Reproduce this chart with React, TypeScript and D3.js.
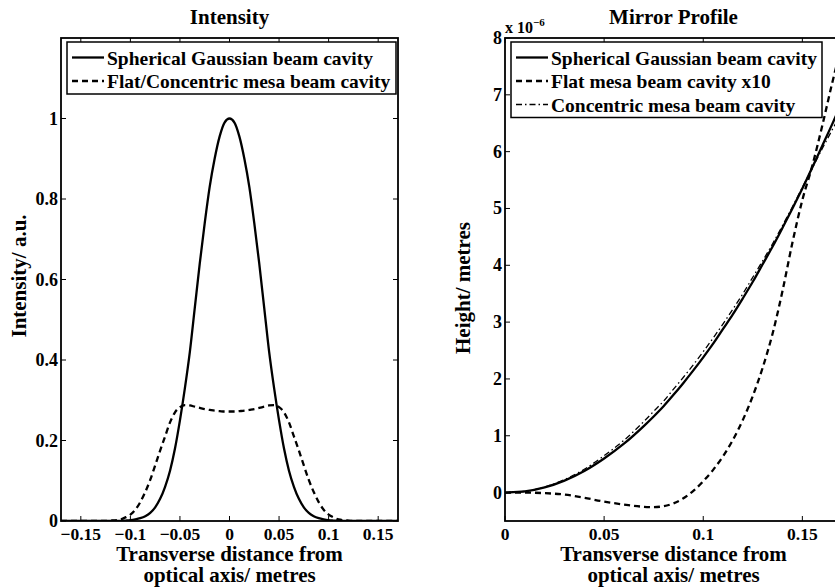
import * as d3 from "d3";

// ---- Intensity panel data ----
const intensityX = [
  -0.17, -0.13, -0.12, -0.11, -0.105, -0.1, -0.095, -0.09, -0.085, -0.08, -0.075, -0.07, -0.065,
  -0.06, -0.055, -0.05, -0.045, -0.04, -0.035, -0.03, -0.025, -0.02, -0.015, -0.01, -0.005, 0,
  0.005, 0.01, 0.015, 0.02, 0.025, 0.03, 0.035, 0.04, 0.045, 0.05, 0.055, 0.06, 0.065, 0.07,
  0.075, 0.08, 0.085, 0.09, 0.095, 0.1, 0.105, 0.11, 0.12, 0.13, 0.17,
];
const gaussianIntensity = [
  0, 0, 0, 0, 0.001, 0.002, 0.004, 0.007, 0.012, 0.02, 0.034, 0.055, 0.085,
  0.125, 0.18, 0.25, 0.33, 0.42, 0.53, 0.64, 0.74, 0.83, 0.9, 0.955, 0.99, 1.0,
  0.99, 0.955, 0.9, 0.83, 0.74, 0.64, 0.53, 0.42, 0.33, 0.25, 0.18, 0.125, 0.085, 0.055,
  0.034, 0.02, 0.012, 0.007, 0.004, 0.002, 0.001, 0, 0, 0, 0,
];
const mesaIntensity = [
  0, 0, 0.001, 0.004, 0.009, 0.016, 0.028, 0.047, 0.072, 0.102, 0.138, 0.175, 0.21,
  0.245, 0.27, 0.283, 0.288, 0.287, 0.284, 0.281, 0.278, 0.276, 0.274, 0.273, 0.272, 0.272,
  0.272, 0.273, 0.274, 0.276, 0.278, 0.281, 0.284, 0.287, 0.288, 0.283, 0.27, 0.245, 0.21, 0.175,
  0.138, 0.102, 0.072, 0.047, 0.028, 0.016, 0.009, 0.004, 0.001, 0, 0,
];
const intensityXTicks = [-0.15, -0.1, -0.05, 0, 0.05, 0.1, 0.15];
const intensityYTicks = [0, 0.2, 0.4, 0.6, 0.8, 1];

// ---- Mirror profile panel data (heights in units of 1e-6 m) ----
const profileX = [
  0, 0.01, 0.02, 0.03, 0.04, 0.05, 0.06, 0.07, 0.075, 0.08, 0.085, 0.09, 0.095, 0.1, 0.105,
  0.11, 0.115, 0.12, 0.125, 0.13, 0.135, 0.14, 0.145, 0.15, 0.155, 0.16, 0.165, 0.17,
];
const sphericalHeight = [
  0, 0.02, 0.09, 0.21, 0.38, 0.6, 0.86, 1.17, 1.34, 1.52, 1.72, 1.93, 2.15, 2.38, 2.62,
  2.88, 3.14, 3.42, 3.71, 4.02, 4.33, 4.66, 5.0, 5.35, 5.72, 6.1, 6.48, 6.88,
];
const flatMesaHeight = [
  0, 0, -0.01, -0.035, -0.09, -0.16, -0.21, -0.25, -0.255, -0.24, -0.19, -0.1, 0.03, 0.2, 0.4,
  0.64, 0.93, 1.28, 1.7, 2.2, 2.8, 3.55, 4.4, 5.15, 5.75, 6.45, 7.2, 7.9,
];
const concentricMesaHeight = [
  0, 0.02, 0.1, 0.23, 0.41, 0.65, 0.92, 1.25, 1.43, 1.61, 1.82, 2.03, 2.25, 2.48, 2.72,
  2.97, 3.23, 3.5, 3.79, 4.08, 4.38, 4.7, 5.03, 5.37, 5.71, 6.05, 6.38, 6.7,
];
const profileXTicks = [0, 0.05, 0.1, 0.15];
const profileYTicks = [0, 1, 2, 3, 4, 5, 6, 7, 8];

const FONT = "'Liberation Serif', 'Times New Roman', serif";
const W = 835;
const H = 587;
const top = 38;
const bottom = 521;
const tickLen = 5;

const fmt = (v: number) => (v < 0 ? "\u2212" + String(-v) : String(v));

interface SeriesDef {
  label: string;
  values: number[];
  dash?: string;
  width: number;
}

interface PanelProps {
  id: string;
  left: number;
  right: number;
  xDomain: [number, number];
  yDomain: [number, number];
  xs: number[];
  series: SeriesDef[];
  xTicks: number[];
  yTicks: number[];
  title: string;
  yLabel: string;
  yLabelY: number;
  legendWidth: number;
  exponent?: boolean;
}

function Panel(p: PanelProps) {
  const x = d3.scaleLinear().domain(p.xDomain).range([p.left, p.right]);
  const y = d3.scaleLinear().domain(p.yDomain).range([bottom, top]);
  const cx = (p.left + p.right) / 2;
  const line = (vals: number[]) =>
    d3
      .line<number>()
      .x((_, i) => x(p.xs[i]))
      .y((d) => y(d))
      .curve(d3.curveMonotoneX)(vals) || "";

  const lgX = p.left + 6;
  const lgY = top + 4;
  const rowH = 23.5;
  const lgH = p.series.length * rowH + 5;

  return (
    <g fontFamily={FONT} fontWeight="bold" fill="#000">
      <defs>
        <clipPath id={p.id}>
          <rect x={p.left} y={top} width={p.right - p.left} height={bottom - top} />
        </clipPath>
      </defs>
      <rect x={p.left} y={top} width={p.right - p.left} height={bottom - top} fill="#fff" />

      {/* curves */}
      <g clipPath={`url(#${p.id})`}>
        {p.series.map((s) => (
          <path
            key={s.label}
            d={line(s.values)}
            fill="none"
            stroke="#000"
            strokeWidth={s.width}
            strokeDasharray={s.dash}
          />
        ))}
      </g>

      {/* ticks on all four sides, pointing inward */}
      {p.xTicks.map((t) => (
        <g key={"xt" + t}>
          <line x1={x(t)} x2={x(t)} y1={bottom} y2={bottom - tickLen} stroke="#000" />
          <line x1={x(t)} x2={x(t)} y1={top} y2={top + tickLen} stroke="#000" />
          <text x={x(t)} y={bottom + 18.5} textAnchor="middle" fontSize={17.5}>
            {fmt(t)}
          </text>
        </g>
      ))}
      {p.yTicks.map((t) => (
        <g key={"yt" + t}>
          <line x1={p.left} x2={p.left + tickLen} y1={y(t)} y2={y(t)} stroke="#000" />
          <line x1={p.right} x2={p.right - tickLen} y1={y(t)} y2={y(t)} stroke="#000" />
          <text x={p.left - 3} y={y(t) + 6} textAnchor="end" fontSize={18}>
            {fmt(t)}
          </text>
        </g>
      ))}
      <rect
        x={p.left}
        y={top}
        width={p.right - p.left}
        height={bottom - top}
        fill="none"
        stroke="#000"
        strokeWidth={1.8}
      />

      {/* legend */}
      <rect x={lgX} y={lgY} width={p.legendWidth} height={lgH} fill="#fff" stroke="#000" strokeWidth={1.5} />
      {p.series.map((s, i) => {
        const ry = lgY + 15.5 + i * rowH;
        return (
          <g key={"lg" + s.label}>
            <line
              x1={lgX + 5}
              x2={lgX + 37}
              y1={ry}
              y2={ry}
              stroke="#000"
              strokeWidth={s.width}
              strokeDasharray={s.dash}
            />
            <text x={lgX + 40} y={ry + 7} fontSize={19.5}>
              {s.label}
            </text>
          </g>
        );
      })}

      {/* titles and labels */}
      <text x={cx} y={24} textAnchor="middle" fontSize={21}>
        {p.title}
      </text>
      <text x={cx} y={561} textAnchor="middle" fontSize={21}>
        <tspan x={cx}>Transverse distance from</tspan>
        <tspan x={cx} dy={21}>
          optical axis/ metres
        </tspan>
      </text>
      <text
        transform={`translate(${p.left - 35},${p.yLabelY}) rotate(-90)`}
        textAnchor="middle"
        fontSize={21}
      >
        {p.yLabel}
      </text>
      {p.exponent && (
        <text x={p.left} y={33} fontSize={16}>
          x 10
          <tspan dy={-7} fontSize={11}>
            {"\u22126"}
          </tspan>
        </text>
      )}
    </g>
  );
}

export default function App() {
  return (
    <svg
      width={W}
      height={H}
      style={{ position: "absolute", left: 0, top: 0, background: "#fff" }}
    >
      <rect width={W} height={H} fill="#fff" />
      <Panel
        id="clipA"
        left={61}
        right={398}
        xDomain={[-0.17, 0.17]}
        yDomain={[0, 1.2]}
        xs={intensityX}
        series={[
          { label: "Spherical Gaussian beam cavity", values: gaussianIntensity, width: 2.3 },
          { label: "Flat/Concentric mesa beam cavity", values: mesaIntensity, width: 2.3, dash: "6,4" },
        ]}
        xTicks={intensityXTicks}
        yTicks={intensityYTicks}
        title="Intensity"
        yLabel="Intensity/ a.u."
        yLabelY={276}
        legendWidth={329}
      />
      <Panel
        id="clipB"
        left={505}
        right={842}
        xDomain={[0, 0.17]}
        yDomain={[-0.5, 8]}
        xs={profileX}
        series={[
          { label: "Spherical Gaussian beam cavity", values: sphericalHeight, width: 2.3 },
          { label: "Flat mesa beam cavity x10", values: flatMesaHeight, width: 2.3, dash: "6,4" },
          {
            label: "Concentric mesa beam cavity",
            values: concentricMesaHeight,
            width: 1.3,
            dash: "6,3,1.5,3",
          },
        ]}
        xTicks={profileXTicks}
        yTicks={profileYTicks}
        title="Mirror Profile"
        yLabel="Height/ metres"
        yLabelY={288}
        legendWidth={311}
        exponent
      />
    </svg>
  );
}
